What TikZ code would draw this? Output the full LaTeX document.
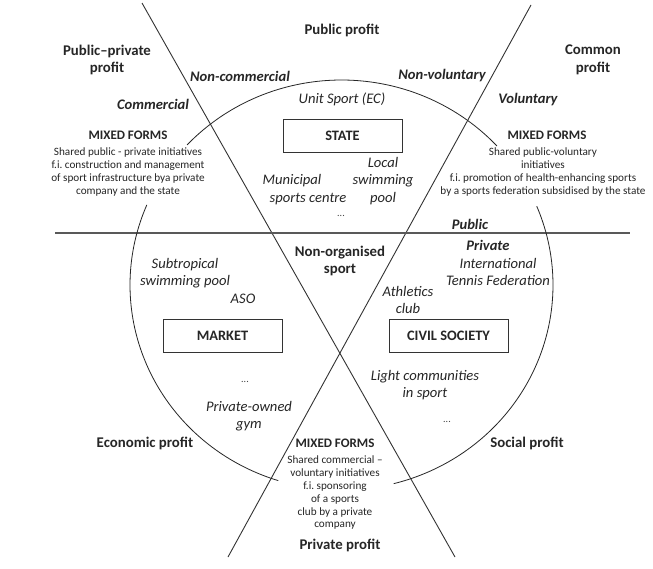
\documentclass[tikz,border=0pt]{standalone}
\usepackage{fontspec}
\setmainfont{Carlito}
\frenchspacing
\begin{document}
\begin{tikzpicture}[x=1pt,y=-1pt,
  lbl/.style={font=\fontsize{14.8}{17.5}\selectfont\bfseries, align=center, inner sep=0pt, text=black!85},
  ital/.style={font=\fontsize{14.6}{17.5}\selectfont\itshape, align=center, inner sep=0pt, text=black!85},
  dots/.style={font=\fontsize{10}{12}\selectfont, inner sep=0pt, text=black!75},
  bital/.style={font=\fontsize{14.6}{16}\selectfont\bfseries\itshape, inner sep=0pt, text=black!85},
  mixhead/.style={font=\fontsize{13}{14}\selectfont\bfseries, inner sep=0pt, text=black!85},
  mixbody/.style={font=\fontsize{11.2}{12.8}\selectfont, align=center, inner sep=0pt, text=black!85},
  sector/.style={draw=black!80, line width=0.6pt, minimum width=119pt, minimum height=33pt, inner sep=0pt, font=\fontsize{14.4}{15}\selectfont\bfseries, text=black!85},
  divider/.style={draw=black!80, line width=0.9pt},
  hline/.style={draw=black!65, line width=1.2pt},
  ring/.style={draw=black!85, line width=0.8pt}]
\useasboundingbox (0,0) rectangle (653,568);
\fill[white] (0,0) rectangle (653,568);

% dividing lines
\coordinate (L1a) at (142,3);
\coordinate (L1b) at (455,557);
\coordinate (L2a) at (531,5);
\coordinate (L2b) at (228,557);
\coordinate (Ha) at (55,233);
\coordinate (Hb) at (630,233);
\draw[divider] (L1a) -- (L1b);
\draw[divider] (L2a) -- (L2b);
\draw[hline] (Ha) -- (Hb);

% ellipse pieces
\draw[ring] plot[domain=42.7:136.9, samples=80] ({341.5+211.5*cos(\x)}, {285-205*sin(\x)});
\draw[ring] plot[domain=157:252.6, samples=80] ({341.5+211.5*cos(\x)}, {285-205*sin(\x)});
\draw[ring] plot[domain=284.3:382.6, samples=80] ({341.5+211.5*cos(\x)}, {285-205*sin(\x)});

% outer labels
\node[lbl] (pubprofit) at (342,30) {Public profit};
\node[lbl] (pubpriv) at (107,60) {Public--private\\profit};
\node[lbl] (common) at (593,60) {Common\\profit};
\node[lbl] (econ) at (145,443) {Economic profit};
\node[lbl] (social) at (527,443) {Social profit};
\node[lbl] (privprofit) at (340,545) {Private profit};

% line labels
\node[bital] (noncom) at (240,76) {Non-commercial};
\node[bital] (nonvol) at (442,76) {Non-voluntary};
\node[bital] (com) at (153,104) {Commercial};
\node[bital] (vol) at (528,100) {Voluntary};
\node[bital] (public) at (470,224) {Public};
\node[bital] (private) at (488,245) {Private};

% sectors
\node[sector] (state) at (342.5,136) {STATE};
\node[sector] (market) at (222.5,336) {MARKET};
\node[sector] (civil) at (448.5,335.5) {CIVIL SOCIETY};

% state examples
\node[ital] (unit) at (342,99) {Unit Sport (EC)};
\node[ital] (munic1) at (292,181) {Municipal};
\node[ital] (munic2) at (308,199) {sports centre};
\node[ital] (local) at (383,181) {Local\\swimming\\pool};
\node[dots] (sdots) at (341,216) {...};

% centre
\node[lbl] (nonorg) at (340,261) {Non-organised\\sport};

% market examples
\node[ital] (subtrop) at (185,273) {Subtropical\\swimming pool};
\node[ital] (aso) at (243,299) {ASO};
\node[dots] (mdots) at (245,382) {...};
\node[ital] (gym) at (249,416) {Private-owned\\gym};

% civil society examples
\node[ital] (itf) at (498,272) {International\\Tennis Federation};
\node[ital] (athl) at (408,300) {Athletics\\club};
\node[ital] (light) at (425,385) {Light communities\\in sport};
\node[dots] (cdots) at (447,422) {...};

% mixed forms
\node[mixhead] (mix1h) at (128,135) {MIXED FORMS};
\node[mixbody] (mix1b) at (128,172) {Shared public - private initiatives\\f.i. construction and management\\of sport infrastructure bya private\\company and the state};
\node[mixhead] (mix2h) at (547,135) {MIXED FORMS};
\node[mixbody] (mix2b) at (543,172) {Shared public-voluntary\\initiatives\\f.i. promotion of health-enhancing sports\\by a sports federation subsidised by the state};
\node[mixhead] (mix3h) at (335,443) {MIXED FORMS};
\node[mixbody] (mix3b) at (335,493) {Shared commercial --\\voluntary initiatives\\f.i. sponsoring\\of a sports\\club by a private\\company};
\end{tikzpicture}
\end{document}
